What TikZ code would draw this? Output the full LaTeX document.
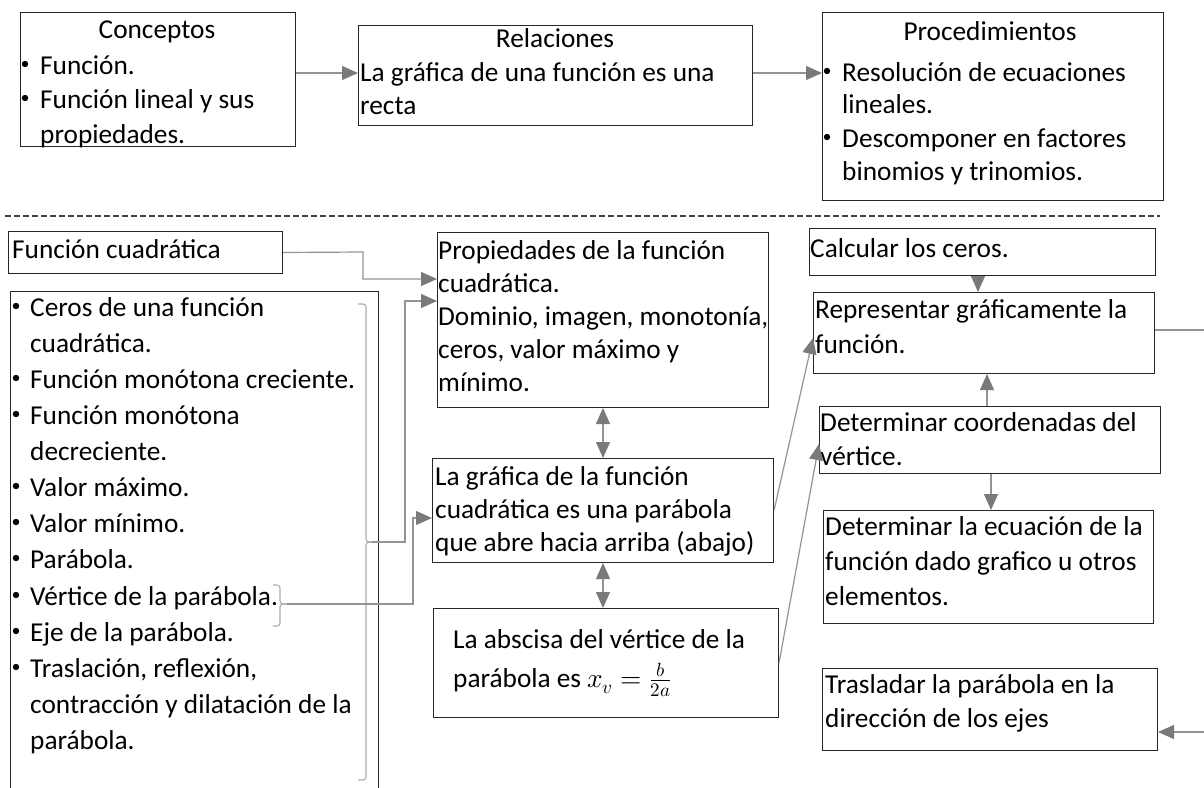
\documentclass[tikz,border=0pt]{standalone}
\usepackage{fontspec}
\setmainfont{Carlito}
\usepackage{unicode-math}
\setmathfont{Latin Modern Math}
\usetikzlibrary{arrows.meta,calc}
\tikzset{
  box/.style={draw=black!85, line width=1pt, inner sep=0pt, anchor=north west},
  txt/.style={font=\fontsize{27.3pt}{32pt}\selectfont, inner sep=0pt, anchor=base west, yshift=-7pt},
  ttl/.style={txt, anchor=base},
  tip/.style={-{Triangle[length=16pt,width=14pt,color=black!52]}},
  conn/.style={draw=black!42, line width=1.2pt, tip},
  dconn/.style={draw=black!42, line width=1.2pt, {Triangle[length=16pt,width=14pt,color=black!52]}-{Triangle[length=16pt,width=14pt,color=black!52]}},
  brk/.style={draw=black!32, line width=1.1pt, rounded corners=3pt},
  bul/.style={fill=black},
}
\newcommand\bx[5]{\node[box, minimum width={(#4-#2)*1pt}, minimum height={(#5-#3)*1pt}] (#1) at (#2,#3) {};}
\newcommand\bul[2]{\fill[bul] (#1,#2-3) circle[radius=3.2pt];}
\begin{document}
\begin{tikzpicture}[x=1pt,y=-1pt]
\useasboundingbox[fill=white] (0,0) rectangle (1204,787);
% ---- boxes
\bx{concept}{20}{12}{295}{146}
\bx{rel}{358}{25}{752}{125}
\bx{proc}{822}{12}{1163}{200}
\bx{fc}{8}{231}{282}{273}
\bx{lista}{10}{291}{378}{800}
\bx{prop}{437}{232}{768}{407}
\bx{graf}{432}{458}{773}{562}
\bx{absc}{433}{608}{778}{717}
\bx{calc}{809}{228}{1155}{275}
\bx{rep}{813}{292}{1154}{373}
\bx{det}{819}{406}{1160}{473}
\bx{ecu}{823}{510}{1153}{623}
\bx{tras}{822}{668}{1157}{750}
% ---- top texts
\node[ttl] (ct) at (157,31) {Conceptos};
\bul{25}{67}\bul{25}{101}
\node[txt] (c1) at (40,67) {Función.};
\node[txt] (c2) at (40,101) {Función lineal y sus};
\node[txt] (c3) at (40,136) {propiedades.};
\node[ttl] (rt) at (555,40) {Relaciones};
\node[txt] (r1) at (360,74) {La gráfica de una función es una};
\node[txt] (r2) at (360,107) {recta};
\node[ttl] (pt) at (990,33) {Procedimientos};
\bul{827}{74}\bul{827}{140}
\node[txt] (p1) at (842,74) {Resolución de ecuaciones};
\node[txt] (p2) at (842,106) {lineales.};
\node[txt] (p3) at (842,140) {Descomponer en factores};
\node[txt] (p4) at (842,173) {binomios y trinomios.};
% ---- dashed separator
\draw[black!75, line width=1.2pt, dash pattern=on 6pt off 3pt] (5,216) coordinate (d1) -- (1160,216) coordinate (d2);
% ---- lower left
\node[txt] (f1) at (12,251) {Función cuadrática};
\foreach \yy/\tt/\b [count=\i] in {
  309/{Ceros de una función}/1,
  345/{cuadrática.}/0,
  381/{Función monótona creciente.}/1,
  417/{Función monótona}/1,
  453/{decreciente.}/0,
  489/{Valor máximo.}/1,
  525/{Valor mínimo.}/1,
  561/{Parábola.}/1,
  598/{Vértice de la parábola.}/1,
  634/{Eje de la parábola.}/1,
  670/{Traslación, reflexión,}/1,
  706/{contracción y dilatación de la}/0,
  742/{parábola.}/0}{
  \node[txt] (l\i) at (30,\yy) {\tt};
  \ifnum\b=1 \bul{16}{\yy}\fi
}
% ---- middle
\node[txt] (q1) at (438,252) {Propiedades de la función};
\node[txt] (q2) at (438,285) {cuadrática.};
\node[txt] (q3) at (438,318) {Dominio, imagen, monotonía,};
\node[txt] (q4) at (438,351) {ceros, valor máximo y};
\node[txt] (q5) at (438,384) {mínimo.};
\node[txt] (g1) at (435,478) {La gráfica de la función};
\node[txt] (g2) at (435,511) {cuadrática es una parábola};
\node[txt] (g3) at (435,544) {que abre hacia arriba (abajo)};
\node[txt] (a1) at (453,641) {La abscisa del vértice de la};
\node[txt] (a2) at (453,680) {parábola es $x_v=\frac{b}{2a}$};
% ---- right
\node[txt] (k1) at (810,250) {Calcular los ceros.};
\node[txt] (s1) at (815,311) {Representar gráficamente la};
\node[txt] (s2) at (815,346) {función.};
\node[txt] (e1) at (820,424) {Determinar coordenadas del};
\node[txt] (e2) at (820,458) {vértice.};
\node[txt] (u1) at (825,528) {Determinar la ecuación de la};
\node[txt] (u2) at (825,563) {función dado grafico u otros};
\node[txt] (u3) at (825,598) {elementos.};
\node[txt] (t1) at (825,686) {Trasladar la parábola en la};
\node[txt] (t2) at (825,720) {dirección de los ejes};
% ---- brackets
\draw[brk] (358,304) -- (366,304) -- (366,542) -- (373,542);
\draw[brk] (373,542) -- (366,542) -- (366,780) -- (358,780);
\draw[brk] (273,585) -- (280,585) -- (280,604) -- (287,604);
\draw[brk] (287,604) -- (280,604) -- (280,626) -- (273,626);
\coordinate (b1) at (372,542);
\coordinate (b2) at (287,604);
% ---- connectors
\draw[conn] (concept.east |- 0,73) -- (rel.west |- 0,73);
\draw[conn] (rel.east |- 0,73) -- (proc.west |- 0,73);
\draw[conn] (fc.east) -- (363,252) |- (prop.west |- 0,279);
\draw[conn] (b1) -- (405,542) |- (prop.west |- 0,301);
\draw[conn] (b2) -- (413,604) |- (graf.west |- 0,518);
\draw[dconn] (prop.south -| 603,0) -- (graf.north -| 603,0);
\draw[dconn] (graf.south -| 603,0) -- (absc.north -| 603,0);
\draw[conn] (graf.east) -- (rep.west |- 0,338);
\draw[conn] (absc.east) -- (det.west |- 0,444);
\draw[conn] (calc.south -| 978,0) -- (rep.north -| 978,0);
\draw[conn] (det.north -| 987,0) -- (rep.south -| 987,0);
\draw[conn] (det.south -| 991,0) -- (ecu.north -| 991,0);
\draw[conn] (rep.east |- 0,330) -- (1215,330) |- (tras.east |- 0,732);
\end{tikzpicture}
\end{document}
